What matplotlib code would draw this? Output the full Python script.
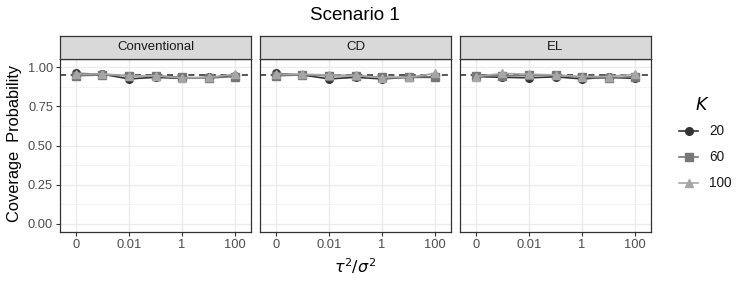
import numpy as np
import matplotlib
matplotlib.use("Agg")
from matplotlib import pyplot as plt
from matplotlib.lines import Line2D

plt.rcParams['font.family'] = ['Liberation Sans', 'DejaVu Sans']

ratio_labels = ['0', '0.001', '0.01', '0.1', '1', '10', '100']
tick_labels = ['0', '0.01', '1', '100']
methods = ['Conventional', 'CD', 'EL']
k_values = ['20', '60', '100']

conv_k20 = [0.960, 0.955, 0.925, 0.935, 0.928, 0.935, 0.945]
conv_k60 = [0.945, 0.950, 0.945, 0.945, 0.935, 0.930, 0.940]
conv_k100 = [0.955, 0.957, 0.945, 0.945, 0.930, 0.935, 0.955]

cd_k20 = [0.960, 0.950, 0.925, 0.935, 0.925, 0.935, 0.935]
cd_k60 = [0.945, 0.950, 0.945, 0.945, 0.935, 0.935, 0.940]
cd_k100 = [0.955, 0.955, 0.950, 0.947, 0.932, 0.935, 0.960]

el_k20 = [0.940, 0.935, 0.932, 0.938, 0.925, 0.935, 0.928]
el_k60 = [0.945, 0.945, 0.947, 0.950, 0.935, 0.930, 0.940]
el_k100 = [0.940, 0.960, 0.955, 0.950, 0.940, 0.940, 0.955]

nominal = 0.95

data = {
    'Conventional': [conv_k20, conv_k60, conv_k100],
    'CD': [cd_k20, cd_k60, cd_k100],
    'EL': [el_k20, el_k60, el_k100],
}

colors = ['#333333', '#777777', '#a6a6a6']
markers = ['o', 's', '^']

W, H = 747, 288
fig = plt.figure(figsize=(W / 100, H / 100), dpi=100)

x = np.arange(1, len(ratio_labels) + 1)
panel_left = [60, 260, 460]
pw = 191
p_top, p_bot = 59.3, 231.7
s_top = 35.5

for i, m in enumerate(methods):
    l = panel_left[i] / W
    ax = fig.add_axes([l, 1 - p_bot / H, pw / W, (p_bot - p_top) / H])
    ax.set_facecolor('white')
    ax.set_xlim(0.4, 7.6)
    ax.set_ylim(-0.05, 1.05)
    ax.set_yticks([0, 0.25, 0.5, 0.75, 1.0])
    ax.set_yticks([0.125, 0.375, 0.625, 0.875], minor=True)
    ax.set_xticks([1, 3, 5, 7])
    ax.grid(which='major', color='#ebebeb', lw=1.0, zorder=0)
    ax.grid(which='minor', axis='y', color='#f2f2f2', lw=0.6, zorder=0)
    ax.set_axisbelow(True)
    for sp in ax.spines.values():
        sp.set_color('#333333')
        sp.set_linewidth(0.9)
    ax.tick_params(which='major', length=3, width=0.8, color='#333333',
                   labelsize=9.3, labelcolor='#4d4d4d', pad=2)
    ax.tick_params(which='minor', length=0)
    ax.set_xticklabels(tick_labels)
    if i == 0:
        ax.set_yticklabels(['0.00', '0.25', '0.50', '0.75', '1.00'])
    else:
        ax.tick_params(axis='y', labelleft=False, length=0)

    ax.axhline(nominal, color='#262626', ls=(0, (4, 3)), lw=1.1, zorder=2)
    for j in range(3):
        ax.plot(x, data[m][j], color=colors[j], marker=markers[j],
                ms=5.5, lw=1.2, zorder=3 + j)

    sax = fig.add_axes([l, 1 - p_top / H, pw / W, (p_top - s_top) / H])
    sax.set_facecolor('#d9d9d9')
    sax.set_xticks([])
    sax.set_yticks([])
    for sp in sax.spines.values():
        sp.set_color('#333333')
        sp.set_linewidth(0.9)
    sax.text(0.5, 0.5, m, ha='center', va='center', fontsize=9.5,
             color='#1a1a1a', transform=sax.transAxes)

fig.text(355 / W, 1 - 15 / H, 'Scenario 1', ha='center', va='center', fontsize=13.5)
fig.text(355 / W, 1 - 266 / H, r'$\tau^2/\sigma^2$', ha='center', va='center', fontsize=11.5)
fig.text(15 / W, 1 - 143 / H, 'Coverage  Probability', ha='center', va='center',
         rotation=90, fontsize=11.8)

# legend
fig.text(702 / W, 1 - 104 / H, r'$K$', ha='center', va='center', fontsize=12.5)
for j, k in enumerate(k_values):
    yy = 1 - (131 + j * 26) / H
    fig.add_artist(Line2D([679 / W, 698 / W], [yy, yy], color=colors[j],
                          lw=1.2, transform=fig.transFigure))
    fig.add_artist(Line2D([688.5 / W], [yy], color=colors[j], marker=markers[j],
                          ms=5.5, transform=fig.transFigure))
    fig.text(709 / W, yy, k, ha='left', va='center', fontsize=9.8, color='#1a1a1a')

fig.savefig('out.png', dpi=100)
